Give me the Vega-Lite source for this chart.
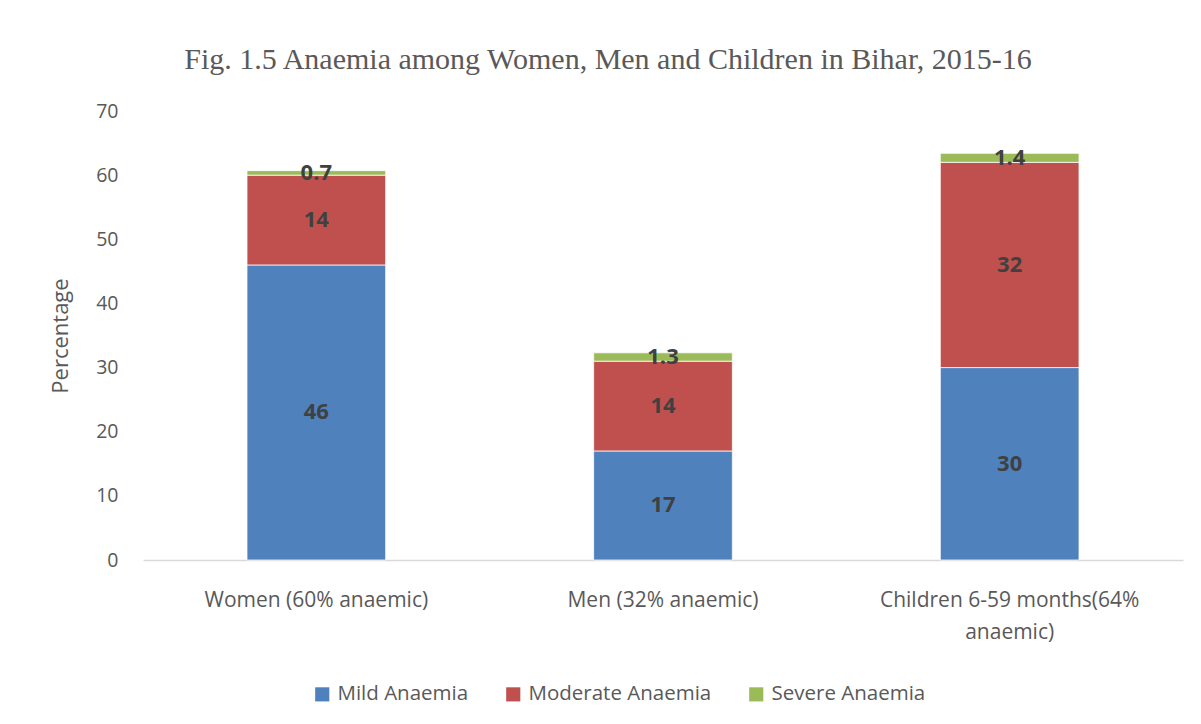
{
  "$schema": "https://vega.github.io/schema/vega-lite/v6.json",
  "width": 1040,
  "height": 449,
  "autosize": {"type": "none"},
  "padding": {"left": 143, "top": 111, "right": 18, "bottom": 164},
  "background": "white",
  "title": {
    "text": "Fig. 1.5 Anaemia among Women, Men and Children in Bihar, 2015-16",
    "font": "Liberation Serif",
    "fontSize": 30,
    "fontWeight": "normal",
    "color": "#595959",
    "anchor": "middle",
    "dx": -55,
    "offset": 26
  },
  "data": {
    "values": [
      {"group": "Women (60% anaemic)", "type": "Mild Anaemia", "order": 1, "value": 46, "label": "46"},
      {"group": "Women (60% anaemic)", "type": "Moderate Anaemia", "order": 2, "value": 14, "label": "14"},
      {"group": "Women (60% anaemic)", "type": "Severe Anaemia", "order": 3, "value": 0.7, "label": "0.7"},
      {"group": "Men (32% anaemic)", "type": "Mild Anaemia", "order": 1, "value": 17, "label": "17"},
      {"group": "Men (32% anaemic)", "type": "Moderate Anaemia", "order": 2, "value": 14, "label": "14"},
      {"group": "Men (32% anaemic)", "type": "Severe Anaemia", "order": 3, "value": 1.3, "label": "1.3"},
      {"group": "Children 6-59 months(64% anaemic)", "type": "Mild Anaemia", "order": 1, "value": 30, "label": "30"},
      {"group": "Children 6-59 months(64% anaemic)", "type": "Moderate Anaemia", "order": 2, "value": 32, "label": "32"},
      {"group": "Children 6-59 months(64% anaemic)", "type": "Severe Anaemia", "order": 3, "value": 1.4, "label": "1.4"}
    ]
  },
  "transform": [
    {"stack": "value", "groupby": ["group"], "sort": [{"field": "order"}], "as": ["v0", "v1"]},
    {"calculate": "(datum.v0 + datum.v1) / 2", "as": "mid"}
  ],
  "encoding": {
    "x": {
      "field": "group",
      "type": "nominal",
      "sort": ["Women (60% anaemic)", "Men (32% anaemic)", "Children 6-59 months(64% anaemic)"],
      "scale": {"paddingInner": 0.6, "paddingOuter": 0.3},
      "axis": {
        "title": null,
        "labelAngle": 0,
        "labelFont": "Open Sans",
        "labelFontSize": 21,
        "labelColor": "#595959",
        "labelPadding": 29,
        "labelLineHeight": 32,
        "labelBaseline": "top",
        "labelLimit": 500,
        "ticks": false,
        "domainColor": "#d9d9d9",
        "domainWidth": 1.5,
        "labelExpr": "datum.label == 'Children 6-59 months(64% anaemic)' ? ['Children 6-59 months(64%', 'anaemic)'] : datum.label"
      }
    }
  },
  "layer": [
    {
      "mark": {"type": "bar", "stroke": "white", "strokeWidth": 0.75},
      "encoding": {
        "y": {
          "field": "v0",
          "type": "quantitative",
          "scale": {"domain": [0, 70]},
          "axis": {
            "title": "Percentage",
            "titleFont": "Open Sans",
            "titleFontSize": 22,
            "titleFontWeight": "normal",
            "titleColor": "#595959",
            "titlePadding": 23,
            "values": [0, 10, 20, 30, 40, 50, 60, 70],
            "labelFont": "Open Sans",
            "labelFontSize": 19.5,
            "labelColor": "#595959",
            "labelPadding": 25,
            "ticks": false,
            "domain": false,
            "grid": false
          }
        },
        "y2": {"field": "v1"},
        "color": {
          "field": "type",
          "type": "nominal",
          "scale": {
            "domain": ["Mild Anaemia", "Moderate Anaemia", "Severe Anaemia"],
            "range": ["#4F81BD", "#C0504D", "#9BBB59"]
          },
          "legend": {
            "title": null,
            "orient": "none",
            "direction": "horizontal",
            "legendX": 169,
            "legendY": 573,
            "symbolType": "square",
            "symbolSize": 200,
            "symbolStrokeWidth": 0,
            "labelFont": "Open Sans",
            "labelFontSize": 20.5,
            "labelColor": "#595959",
            "labelLimit": 400,
            "labelOffset": 5,
            "columnPadding": 34
          }
        }
      }
    },
    {
      "mark": {"type": "text", "font": "Open Sans", "fontSize": 22, "fontWeight": "bold", "color": "#404040", "baseline": "middle"},
      "encoding": {
        "y": {"field": "mid", "type": "quantitative"},
        "text": {"field": "label"}
      }
    }
  ],
  "config": {"view": {"stroke": null}}
}
